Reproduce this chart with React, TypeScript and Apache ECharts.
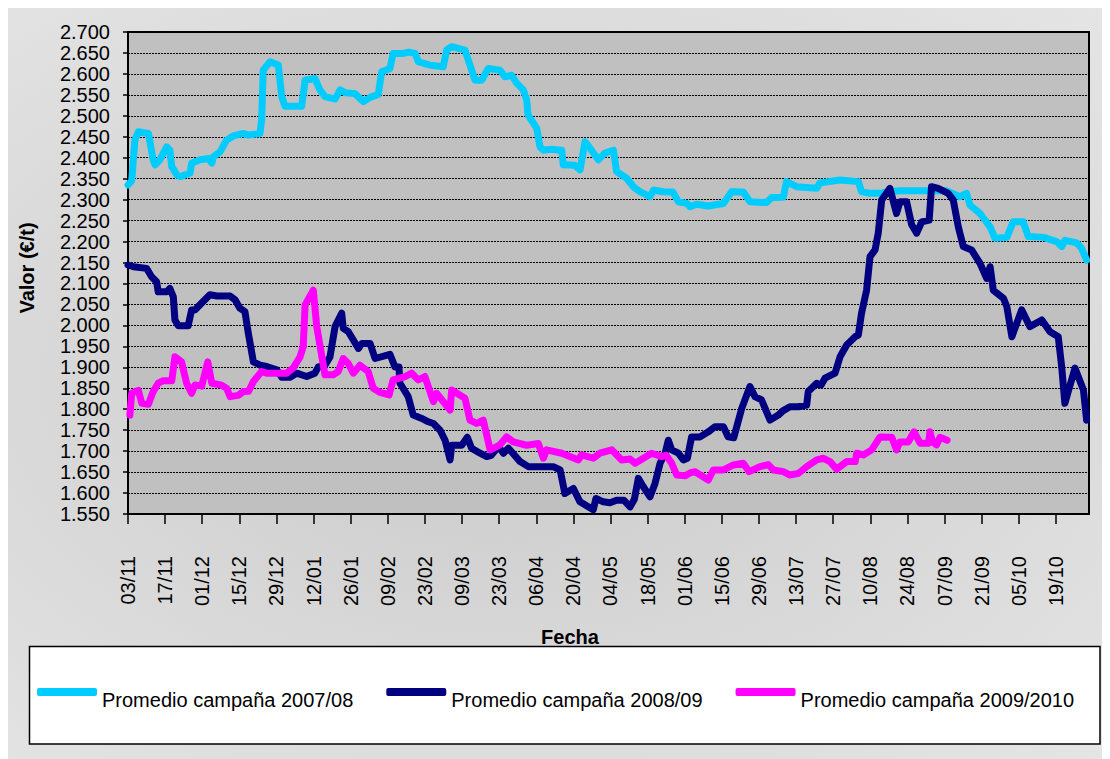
import React, { useEffect, useRef } from "react";
import * as echarts from "echarts";

// Tick labels (every 14 days, day 0 = 03/11)
const tickLabels: string[] = [
  "03/11", "17/11", "01/12", "15/12", "29/12", "12/01", "26/01", "09/02", "23/02",
  "09/03", "23/03", "06/04", "20/04", "04/05", "18/05", "01/06", "15/06", "29/06",
  "13/07", "27/07", "10/08", "24/08", "07/09", "21/09", "05/10", "19/10",
];
const tickStep = 14;
const lastDay = 362.5;

const seriesNames: string[] = [
  "Promedio campaña 2007/08",
  "Promedio campaña 2008/09",
  "Promedio campaña 2009/2010",
];
const seriesColors: string[] = ["#00CCFF", "#000080", "#FF00FF"];

// [day since 03/11, value €/t]
const campana0708: [number, number][] = [
  [0, 2335], [1.4, 2345], [2.6, 2442], [3.9, 2462], [7.7, 2458], [9.5, 2395], [10.2, 2383],
  [12, 2395], [14.6, 2426], [15.8, 2418], [16.5, 2379], [18.4, 2359], [19.7, 2355], [23.4, 2363],
  [24, 2387], [27.2, 2395], [30.5, 2398], [31.6, 2387], [32.2, 2402], [34.7, 2414], [37.2, 2442],
  [39.7, 2452], [43.5, 2458], [45.4, 2454], [49.8, 2458], [50.4, 2490], [51, 2609], [53.6, 2629],
  [56.7, 2621], [58, 2546], [59.2, 2523], [65.5, 2523], [66.8, 2585], [70.5, 2589], [72.4, 2562],
  [74.3, 2546], [78.1, 2540], [80, 2562], [82, 2555], [85.6, 2553], [88.8, 2534], [91.3, 2544],
  [94.4, 2551], [95.7, 2605], [98.8, 2613], [100, 2649], [103.8, 2649], [106, 2652], [108.3, 2649],
  [109.5, 2629], [113.9, 2621], [118.9, 2617], [120.2, 2657], [122.1, 2665], [127.1, 2657],
  [129, 2621], [130.9, 2585], [133.4, 2585], [135.9, 2613], [140.3, 2609], [142.2, 2593],
  [144.7, 2597], [146.6, 2578], [149.1, 2562], [150.4, 2538], [150.9, 2502], [154.2, 2470],
  [155.4, 2426], [156.7, 2418], [159.2, 2420], [163.6, 2418], [164.2, 2383], [168.6, 2382],
  [170.5, 2371], [172.4, 2438], [174, 2425], [177.4, 2395], [179.9, 2411], [183.1, 2418],
  [184.3, 2367], [188.1, 2351], [190.6, 2331], [193.1, 2319], [196.9, 2307], [198.2, 2323],
  [201.9, 2319], [205.5, 2318], [207.6, 2295], [210.8, 2291], [212, 2283], [214.5, 2289],
  [218.9, 2285], [224.6, 2291], [227.7, 2319], [232.1, 2318], [234.6, 2295], [240.9, 2293],
  [242.8, 2305], [247.2, 2306], [248.4, 2343], [252.2, 2331], [259.8, 2327], [261, 2340],
  [268.6, 2347], [275.5, 2343], [276.7, 2319], [279.9, 2315], [283.7, 2315], [287, 2319],
  [291.2, 2321], [308.8, 2321], [313.8, 2307], [316.3, 2315], [317.6, 2287], [321.4, 2267],
  [325.2, 2235], [327, 2208], [331.5, 2210], [333.9, 2247], [337.7, 2247], [339.6, 2212],
  [345.3, 2210], [350.3, 2200], [352.2, 2188], [353.4, 2203], [357.9, 2197], [359.7, 2184],
  [361.6, 2156],
];

const campana0809: [number, number][] = [
  [0, 2144], [2, 2140], [7, 2136], [8.9, 2116], [10.8, 2104], [11.4, 2080], [14.6, 2080],
  [15.8, 2088], [17.1, 2068], [17.7, 2013], [19, 1999], [22.7, 1999], [24, 2037], [25.3, 2037],
  [26.5, 2045], [29, 2061], [30.9, 2073], [33.5, 2070], [38.5, 2070], [40.4, 2061], [42.2, 2041],
  [44.1, 2033], [45.4, 1981], [47.3, 1913], [49.8, 1905], [52.3, 1902], [56.1, 1894], [58, 1876],
  [61.1, 1876], [63.6, 1886], [67.4, 1878], [70.5, 1886], [71.8, 1901], [74.3, 1905], [76.2, 1925],
  [78.1, 1997], [80.6, 2029], [81.2, 1993], [83.1, 1985], [85, 1965], [86.9, 1945], [88.2, 1957],
  [91.3, 1957], [93.2, 1921], [98.8, 1931], [100.7, 1901], [102.2, 1901], [102.6, 1862],
  [105.7, 1830], [107.6, 1786], [110.8, 1778], [113.3, 1770], [115.2, 1766], [117.7, 1750],
  [119.6, 1726], [121.5, 1679], [122.1, 1714], [125.9, 1714], [128, 1733], [129.6, 1707],
  [132.8, 1695], [135.3, 1687], [137, 1690], [139.7, 1711], [141.6, 1695], [143.5, 1707],
  [147.9, 1675], [151, 1663], [160.4, 1663], [163, 1655], [164.8, 1599], [168, 1611], [170.5, 1579],
  [175.5, 1560], [176.5, 1587], [179.3, 1579], [181.8, 1577], [184.3, 1583], [187, 1583],
  [189.4, 1567], [191, 1585], [192.5, 1635], [194.4, 1615], [196.9, 1591], [198.8, 1623],
  [200.7, 1671], [202.6, 1695], [203.8, 1726], [205.1, 1703], [207.6, 1695], [209.5, 1679],
  [211, 1683], [212.6, 1734], [215.8, 1734], [218.9, 1746], [221.4, 1758], [224.6, 1758],
  [226.4, 1734], [228.5, 1732], [231.5, 1802], [234.6, 1854], [236.5, 1830], [239, 1822],
  [242.2, 1774], [245.3, 1786], [247, 1796], [249.7, 1806], [252.9, 1806], [256, 1810],
  [256.6, 1842], [259.8, 1862], [261.5, 1858], [262.9, 1874], [266.7, 1886], [268.6, 1925],
  [271.1, 1953], [274.3, 1973], [275.5, 1977], [276.7, 2029], [278.6, 2084], [279.9, 2164],
  [281.8, 2180], [283, 2220], [284.3, 2299], [287.4, 2327], [289.9, 2267], [291.2, 2295],
  [293.7, 2295], [295.6, 2240], [297.5, 2220], [299.4, 2247], [302.2, 2251], [303.1, 2331],
  [305.6, 2327], [309.4, 2315], [311.3, 2299], [313.2, 2235], [315.1, 2188], [318.2, 2180],
  [321.4, 2148], [323.9, 2112], [325.2, 2140], [326.4, 2084], [330.2, 2065], [331.5, 2045],
  [333.4, 1973], [337.1, 2037], [340.2, 1997], [344.7, 2013], [347.8, 1985], [350.9, 1973],
  [352.2, 1901], [353.4, 1814], [357.2, 1898], [360.4, 1846], [361.6, 1774],
];

const campana0910: [number, number][] = [
  [0.7, 1786], [1.4, 1838], [3.9, 1845], [5.2, 1814], [7.7, 1812], [9.5, 1842], [11.4, 1862],
  [13.3, 1868], [16.5, 1868], [17.7, 1925], [20.2, 1913], [22.1, 1862], [24, 1838], [25.3, 1858],
  [27.8, 1855], [30.1, 1913], [31.6, 1862], [35, 1858], [37.2, 1850], [38.5, 1830], [41.6, 1833],
  [43.5, 1842], [45.5, 1843], [47.3, 1866], [50.4, 1890], [52.3, 1886], [59.8, 1886], [62.3, 1898],
  [64.9, 1925], [66.1, 1949], [66.8, 2049], [69.9, 2084], [71.2, 1997], [74.3, 1882], [77.4, 1882],
  [79.3, 1890], [81.2, 1921], [83.1, 1909], [85, 1886], [87.5, 1905], [90.6, 1890], [92.5, 1850],
  [95.1, 1840], [98.5, 1834], [100, 1870], [104.5, 1878], [107, 1886], [109.5, 1870], [112, 1878],
  [115.2, 1818], [116.4, 1838], [121.5, 1798], [122.1, 1846], [127.1, 1826], [129, 1774],
  [131.5, 1766], [134, 1774], [136.6, 1703], [140.3, 1715], [142.8, 1734], [145.3, 1722],
  [150.4, 1714], [154.8, 1718], [156.7, 1683], [157.9, 1703], [163.6, 1695], [169.9, 1679],
  [171.1, 1691], [175.5, 1683], [178, 1695], [182.5, 1703], [186.2, 1679], [189.4, 1681],
  [191.3, 1671], [194.4, 1683], [197.5, 1695], [201.3, 1687], [203, 1690], [205.1, 1671],
  [207, 1643], [210.1, 1641], [212, 1648], [213.9, 1651], [218.9, 1631], [220.8, 1655],
  [224.6, 1655], [228.4, 1667], [232.1, 1671], [234.3, 1651], [238.4, 1663], [241.5, 1668],
  [243.4, 1655], [247.2, 1651], [249.7, 1643], [252.9, 1647], [256, 1663], [259.8, 1679],
  [262.3, 1683], [264.8, 1675], [267.3, 1657], [271.1, 1675], [274.3, 1675], [274.9, 1695],
  [277.4, 1691], [280.5, 1703], [283.7, 1734], [288.1, 1733], [289.9, 1703], [291.2, 1722],
  [294.3, 1722], [296.5, 1746], [298.8, 1719], [302, 1719], [302.5, 1746], [303.5, 1722],
  [305, 1715], [306.3, 1733], [309, 1726],
];

const seriesData = [campana0708, campana0809, campana0910];

const FONT = "'Liberation Sans', Arial, sans-serif";

function formatValue(v: number): string {
  const th = Math.floor(v / 1000);
  const rest = Math.round(v - th * 1000);
  return `${th}.${String(rest).padStart(3, "0")}`;
}

export default function App() {
  const ref = useRef<HTMLDivElement>(null);

  useEffect(() => {
    document.body.style.overflow = "hidden";
    if (!ref.current) return;
    const chart = echarts.init(ref.current, null, { renderer: "svg" });
    const tickValues = tickLabels.map((_, i) => i * tickStep);

    chart.setOption({
      animation: false,
      textStyle: { fontFamily: FONT },
      grid: {
        left: 120,
        top: 26,
        right: 21,
        bottom: 245,
        show: true,
        backgroundColor: "#c0c0c0",
        borderColor: "#000",
        borderWidth: 2,
      },
      xAxis: {
        type: "value",
        min: 0,
        max: lastDay,
        interval: tickStep,
        axisLine: { show: true, onZero: false, lineStyle: { color: "#000", width: 2 } },
        axisTick: {
          show: true,
          length: 10,
          customValues: tickValues,
          lineStyle: { color: "#000", width: 1.5 },
        },
        axisLabel: {
          rotate: 90,
          margin: 42,
          fontSize: 20,
          fontFamily: FONT,
          color: "#000",
          customValues: tickValues,
          formatter: (v: number) => {
            const i = Math.round(v / tickStep);
            return Math.abs(v - i * tickStep) < 0.01 && tickLabels[i] ? tickLabels[i] : "";
          },
        },
        splitLine: { show: false },
      },
      yAxis: {
        type: "value",
        min: 1550,
        max: 2700,
        interval: 50,
        axisLine: { show: true, lineStyle: { color: "#000", width: 2 } },
        axisTick: { show: true, length: 5, lineStyle: { color: "#000", width: 1.5 } },
        axisLabel: {
          margin: 18,
          fontSize: 20,
          fontFamily: FONT,
          color: "#000",
          formatter: (v: number) => formatValue(v),
        },
        splitLine: { show: true, lineStyle: { color: "#000", width: 1, type: [2, 1] } },
      },
      legend: {
        left: 29,
        top: 682,
        padding: 0,
        itemWidth: 60,
        itemHeight: 8,
        itemGap: 33,
        icon: "roundRect",
        data: seriesNames,
        formatter: "{t|{name}}",
        textStyle: {
          fontSize: 20,
          color: "#000",
          fontFamily: FONT,
          rich: {
            t: { fontSize: 20, color: "#000", fontFamily: FONT, padding: [16, 0, 0, 0] },
          },
        },
      },
      graphic: [
        {
          type: "rect",
          z: 0,
          shape: { x: 21.5, y: 640.5, width: 1070.5, height: 97.5 },
          style: { fill: "#ffffff", stroke: "#000", lineWidth: 1.5 },
        },
        {
          type: "text",
          x: 562,
          y: 631,
          style: {
            text: "Fecha",
            font: `bold 20px ${FONT}`,
            fill: "#000",
            align: "center",
            verticalAlign: "middle",
          },
        },
        {
          type: "text",
          x: 19,
          y: 262,
          rotation: Math.PI / 2,
          style: {
            text: "Valor (€/t)",
            font: `bold 20px ${FONT}`,
            fill: "#000",
            align: "center",
            verticalAlign: "middle",
          },
        },
      ],
      series: seriesNames.map((name, i) => ({
        name,
        type: "line",
        data: seriesData[i],
        symbol: "none",
        showSymbol: false,
        color: seriesColors[i],
        lineStyle: { color: seriesColors[i], width: 7, cap: "round", join: "round" },
        z: 2 + i,
      })),
    });

    return () => chart.dispose();
  }, []);

  return (
    <div
      ref={ref}
      style={{
        width: 1102,
        height: 753,
        marginTop: -2,
        background: "radial-gradient(ellipse at 45% 50%, #c9c9c9 0%, #d6d6d6 45%, #e5e5e5 100%)",
      }}
    />
  );
}
